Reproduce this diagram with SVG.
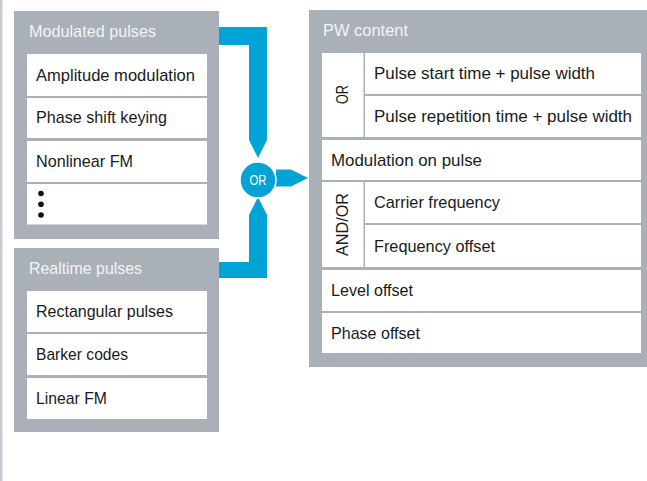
<svg xmlns="http://www.w3.org/2000/svg" width="647" height="481" viewBox="0 0 647 481">
<style>
.blk{fill:#a9b0b7}
.cell{fill:#ffffff}
.hd{font-family:"Liberation Sans",Arial,sans-serif;font-size:17px;fill:#f2f4f5}
.tx{font-family:"Liberation Sans",Arial,sans-serif;font-size:17px;fill:#1a1a1a}
.conn{fill:#00a3d6}
</style>
<rect x="0" y="0" width="647" height="481" fill="#ffffff"/>
<rect x="0" y="0" width="2.5" height="481" fill="#c6cbd3"/>

<g id="modulated">
<rect class="blk" x="14" y="11" width="205" height="228"/>
<text class="hd" x="29" y="37" textLength="127" lengthAdjust="spacingAndGlyphs">Modulated pulses</text>
<rect class="cell" x="27" y="54" width="180" height="42"/>
<text class="tx" x="36" y="80.5" textLength="159" lengthAdjust="spacingAndGlyphs">Amplitude modulation</text>
<rect class="cell" x="27" y="98" width="180" height="40"/>
<text class="tx" x="36" y="123" textLength="131" lengthAdjust="spacingAndGlyphs">Phase shift keying</text>
<rect class="cell" x="27" y="141" width="180" height="41"/>
<text class="tx" x="36" y="166.5" textLength="97" lengthAdjust="spacingAndGlyphs">Nonlinear FM</text>
<rect class="cell" x="27" y="184" width="180" height="40.5"/>
<circle cx="41" cy="193.5" r="2.8" fill="#111"/>
<circle cx="41" cy="204.3" r="2.8" fill="#111"/>
<circle cx="41" cy="215" r="2.8" fill="#111"/>
</g>

<g id="realtime">
<rect class="blk" x="14" y="248" width="205" height="184"/>
<text class="hd" x="29" y="274" textLength="113" lengthAdjust="spacingAndGlyphs">Realtime pulses</text>
<rect class="cell" x="27" y="291" width="180" height="41"/>
<text class="tx" x="36" y="317" textLength="137" lengthAdjust="spacingAndGlyphs">Rectangular pulses</text>
<rect class="cell" x="27" y="334" width="180" height="41"/>
<text class="tx" x="36" y="360" textLength="92" lengthAdjust="spacingAndGlyphs">Barker codes</text>
<rect class="cell" x="27" y="378" width="180" height="41"/>
<text class="tx" x="36" y="404" textLength="71" lengthAdjust="spacingAndGlyphs">Linear FM</text>
</g>

<g id="pw">
<rect class="blk" x="309" y="10" width="338" height="357"/>
<text class="hd" x="323" y="36" textLength="85" lengthAdjust="spacingAndGlyphs">PW content</text>
<rect class="cell" x="322" y="53" width="41.5" height="84"/>
<text class="tx" x="347.5" y="94.5" text-anchor="middle" transform="rotate(-90 347.5 94.5)" textLength="19" lengthAdjust="spacingAndGlyphs">OR</text>
<rect class="cell" x="365" y="53" width="276" height="41"/>
<text class="tx" x="374" y="79" textLength="221" lengthAdjust="spacingAndGlyphs">Pulse start time + pulse width</text>
<rect class="cell" x="365" y="96" width="276" height="41"/>
<text class="tx" x="374" y="122" textLength="258" lengthAdjust="spacingAndGlyphs">Pulse repetition time + pulse width</text>
<rect class="cell" x="322" y="140" width="319" height="40"/>
<text class="tx" x="331" y="165.5" textLength="151" lengthAdjust="spacingAndGlyphs">Modulation on pulse</text>
<rect class="cell" x="322" y="182" width="41.5" height="85"/>
<text class="tx" x="347.5" y="224.5" text-anchor="middle" transform="rotate(-90 347.5 224.5)" textLength="63" lengthAdjust="spacingAndGlyphs">AND/OR</text>
<rect class="cell" x="365" y="182" width="276" height="41"/>
<text class="tx" x="374" y="208" textLength="126" lengthAdjust="spacingAndGlyphs">Carrier frequency</text>
<rect class="cell" x="365" y="225" width="276" height="42"/>
<text class="tx" x="374" y="251.5" textLength="121" lengthAdjust="spacingAndGlyphs">Frequency offset</text>
<rect class="cell" x="322" y="270" width="319" height="41"/>
<text class="tx" x="331" y="296" textLength="82" lengthAdjust="spacingAndGlyphs">Level offset</text>
<rect class="cell" x="322" y="313" width="319" height="40"/>
<text class="tx" x="331" y="339" textLength="89" lengthAdjust="spacingAndGlyphs">Phase offset</text>
</g>

<g id="connectors">
<path class="conn" d="M219,27 H267 V140 L258,158 L249,140 V45 H219 Z"/>
<path class="conn" d="M219,278 H267 V215 L258,197 L249,215 V262 H219 Z"/>
<path class="conn" d="M276,169.5 H291 L308,178 L291,186.5 H276 Z"/>
</g>

<g id="or-node">
<circle cx="258" cy="180" r="18" fill="#00a3d6" stroke="#ffffff" stroke-width="1.5"/>
<text x="258" y="185" text-anchor="middle" font-family="'Liberation Sans',Arial,sans-serif" font-size="14" fill="#ffffff" textLength="17" lengthAdjust="spacingAndGlyphs">OR</text>
</g>
</svg>
